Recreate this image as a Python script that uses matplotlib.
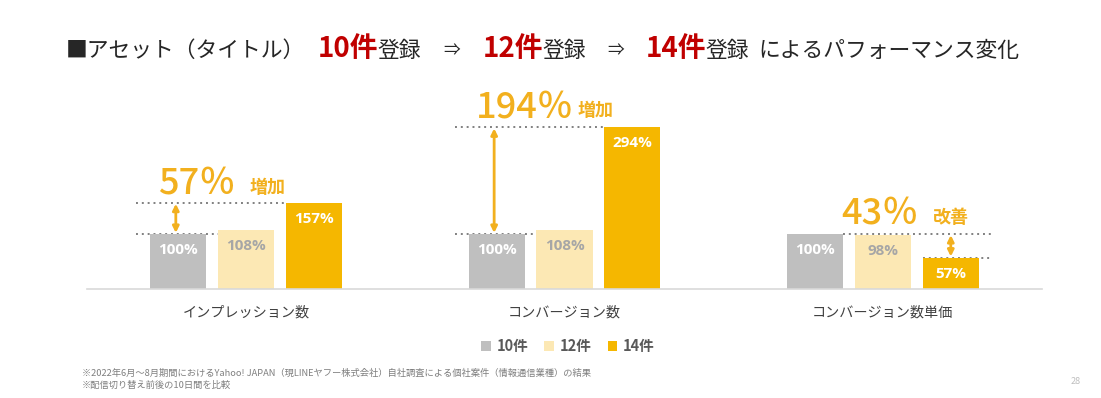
import matplotlib
matplotlib.use("Agg")
import matplotlib.pyplot as plt
import numpy as np

plt.rcParams['font.family'] = ['Noto Sans CJK JP', 'DejaVu Sans']

categories = ["インプレッション数", "コンバージョン数", "コンバージョン数単価"]
series_names = ["10件", "12件", "14件"]
values_10 = [100, 100, 100]
values_12 = [108, 108, 98]
values_14 = [157, 294, 57]
changes = ["57％", "194％", "43％"]
change_words = ["増加", "増加", "改善"]

colors = ["#BFBFBF", "#FCE8B4", "#F5B700"]
label_colors = ["white", "#A6A6A6", "white"]
accent = "#F2B01E"

W, H = 1101, 398
fig = plt.figure(figsize=(W / 100, H / 100), dpi=100)

def fx(px):
    return px / W

def fy(py):
    return 1 - py / H

# axes: x pixels 87..1042, baseline y=289, 55 px per 100%
ax_left, ax_right = 87, 1042
base_y = 289
ppu = 55.0
ymax = 3.5
ax = fig.add_axes([fx(ax_left), fy(base_y), (ax_right - ax_left) / W, ymax * ppu / H])
ax.set_xlim(-0.5, 2.5)
ax.set_ylim(0, ymax)
for s in ["top", "right", "left"]:
    ax.spines[s].set_visible(False)
ax.spines["bottom"].set_color("#D9D9D9")
ax.spines["bottom"].set_linewidth(1.2)
ax.set_yticks([])
ax.set_xticks(range(len(categories)))
ax.set_xticklabels(categories, fontsize=10.2, color="#404040")
ax.tick_params(axis="x", length=0, pad=12)

x = np.arange(len(categories))
off = 0.2135
bw = 0.176
all_series = [values_10, values_12, values_14]
bars = []
for i, vals in enumerate(all_series):
    v = np.array(vals) / 100.0
    b = ax.bar(x + (i - 1) * off, v, width=bw, color=colors[i], label=series_names[i], zorder=2)
    bars.append(b)
    for xi, vi, raw in zip(x + (i - 1) * off, v, vals):
        ax.text(xi, vi - 0.29, f"{raw}%", ha="center", va="center", fontsize=11,
                fontweight="bold", color=label_colors[i], zorder=3,
                family=["Open Sans", "DejaVu Sans"])

dot_kw = dict(color="#808080", linestyle=(0, (1, 2)), linewidth=1.4, zorder=1)
arrow_kw = dict(arrowstyle="<|-|>", color=accent, lw=2, mutation_scale=9, shrinkA=0, shrinkB=0)

# group 0 & 1: increase from 10件 to 14件
for g in [0, 1]:
    top = values_14[g] / 100
    low = values_10[g] / 100
    ax.plot([g - 0.345, g + 0.1255], [top, top], **dot_kw)
    ax.plot([g - 0.345, g - 0.088], [low, low], **dot_kw)
    ax.annotate("", xy=(g - 0.221, low + 0.02), xytext=(g - 0.221, top - 0.02), arrowprops=arrow_kw)

# group 2: improvement (decrease)
g = 2
top = values_10[g] / 100
low = values_14[g] / 100
ax.plot([g - 0.1255, g + 0.343], [top, top], **dot_kw)
ax.plot([g + 0.1255, g + 0.343], [low, low], **dot_kw)
ax.annotate("", xy=(g + off, low + 0.02), xytext=(g + off, top - 0.02), arrowprops=arrow_kw)

# big change annotations (pixel positions from reference)
big_pos = [(158, 194), (476, 117), (841, 224)]
word_pos = [(250, 193), (578, 116), (933, 223)]
for (bx, by), (wx, wy), c, w in zip(big_pos, word_pos, changes, change_words):
    fig.text(fx(bx), fy(by), c, fontsize=26, color=accent, ha="left", va="baseline", fontweight="medium")
    fig.text(fx(wx), fy(wy), w, fontsize=13, color=accent, ha="left", va="baseline", fontweight="bold")

# title
ty = 57
tfs = 15.7
fig.text(fx(66), fy(ty), "■アセット（タイトル）", fontsize=tfs, color="#262626", va="baseline")
red = "#C00000"
for rx, rt, gx, arr in [(318, "10件", 377, 443), (483, "12件", 542, 607), (646, "14件", 705, None)]:
    fig.text(fx(rx), fy(ty), rt, fontsize=20, color=red, fontweight="bold", va="baseline")
    fig.text(fx(gx), fy(ty), "登録", fontsize=tfs, color="#262626", va="baseline")
    if arr:
        fig.text(fx(arr), fy(ty - 2), "⇒", fontsize=12, color="#262626", va="baseline")
fig.text(fx(758), fy(ty), "によるパフォーマンス変化", fontsize=tfs, color="#262626", va="baseline")

# legend
leg = fig.legend(handles=bars, labels=series_names, loc="center", bbox_to_anchor=(fx(568), fy(346)),
                 ncol=3, frameon=False, handlelength=0.65, handleheight=0.65, handletextpad=0.4,
                 columnspacing=1.1, prop={"size": 10.5, "weight": "bold"})
for t in leg.get_texts():
    t.set_color("#595959")

# footnotes
fig.text(fx(82), fy(373), "※2022年6月～8月期間におけるYahoo! JAPAN（現LINEヤフー株式会社）自社調査による個社案件（情報通信業種）の結果",
         fontsize=6.7, color="#7F7F7F", va="center")
fig.text(fx(82), fy(385), "※配信切り替え前後の10日間を比較", fontsize=6.7, color="#7F7F7F", va="center")
fig.text(fx(1076), fy(381), "28", fontsize=6.5, color="#BFBFBF", ha="center", va="center")

fig.savefig("out.png", dpi=100)
